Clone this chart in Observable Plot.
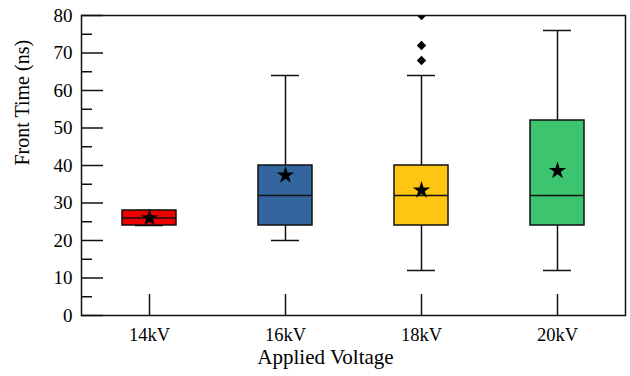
<!DOCTYPE html>
<html>
<head>
<meta charset="utf-8">
<script src="https://cdn.jsdelivr.net/npm/d3@7"></script>
<script src="https://cdn.jsdelivr.net/npm/@observablehq/plot@0.6"></script>
<style>
  body { margin: 0; background: #fff; }
  #chart svg { font-family: "Liberation Serif", "Times New Roman", serif; color: #000; }
</style>
</head>
<body>
<div id="chart"></div>
<script>
const categories = ["14kV", "16kV", "18kV", "20kV"];
const whiskerLow = [24, 20, 12, 12];
const q1 = [24, 24, 24, 24];
const median = [26, 32, 32, 32];
const q3 = [28, 40, 40, 52];
const whiskerHigh = [28, 64, 64, 76];
const means = [26, 37.4, 33.4, 38.6];
const colors = ["#ee0000", "#33659f", "#ffc513", "#3dc46f"];
const outlierCategory = ["18kV", "18kV", "18kV"];
const outlierValues = [68, 72, 80];
const yMajorTicks = [0, 10, 20, 30, 40, 50, 60, 70, 80];
const yMinorTicks = [5, 15, 25, 35, 45, 55, 65, 75];
const xLabel = "Applied Voltage";
const yLabel = "Front Time (ns)";

const rows = categories.map((c, i) => ({
  cat: c, lo: whiskerLow[i], q1: q1[i], med: median[i], q3: q3[i], hi: whiskerHigh[i], mean: means[i], color: colors[i]
}));
const outliers = outlierValues.map((v, i) => ({cat: outlierCategory[i], v}));

const W = 630, H = 376;
const mL = 81, mR = 5, mT = 15, mB = 61;
const pw = W - mL - mR, ph = H - mT - mB;
const band = pw / categories.length;
const boxW = 54, capW = 28;
const boxInset = (band - boxW) / 2, capInset = (band - capW) / 2;
const stroke = "#111";
const yDomain = [0, 80];
// x tick length of 21px expressed in y units
const xTickTop = yDomain[0] + 21 * (yDomain[1] - yDomain[0]) / ph;

const chart = Plot.plot({
  width: W, height: H,
  marginLeft: mL, marginRight: mR, marginTop: mT, marginBottom: mB,
  style: {fontFamily: "Liberation Serif, Times New Roman, serif", fontSize: "19px", background: "#fff", color: "#000"},
  x: {type: "band", domain: categories, padding: 0, label: null},
  y: {domain: yDomain, label: null},
  marks: [
    // whiskers
    Plot.ruleX(rows, {x: "cat", y1: "lo", y2: "q1", stroke, strokeWidth: 1.5}),
    Plot.ruleX(rows, {x: "cat", y1: "q3", y2: "hi", stroke, strokeWidth: 1.5}),
    Plot.tickY(rows, {x: "cat", y: "lo", stroke, strokeWidth: 1.5, insetLeft: capInset, insetRight: capInset}),
    Plot.tickY(rows, {x: "cat", y: "hi", stroke, strokeWidth: 1.5, insetLeft: capInset, insetRight: capInset}),
    // boxes
    Plot.barY(rows, {x: "cat", y1: "q1", y2: "q3", fill: "color", stroke, strokeWidth: 1.5, insetLeft: boxInset, insetRight: boxInset}),
    Plot.tickY(rows, {x: "cat", y: "med", stroke, strokeWidth: 1.5, insetLeft: boxInset, insetRight: boxInset}),
    // means
    Plot.dot(rows, {x: "cat", y: "mean", symbol: "star", r: 5.5, fill: "#000", stroke: "none"}),
    // outliers
    Plot.dot(outliers, {x: "cat", y: "v", symbol: "diamond2", r: 4.2, fill: "#000", stroke: "none", clip: true}),
    // inward ticks
    Plot.ruleY(yMajorTicks, {y: d => d, stroke, strokeWidth: 1.5, insetRight: pw - 22}),
    Plot.ruleY(yMinorTicks, {y: d => d, stroke, strokeWidth: 1.5, insetRight: pw - 11}),
    Plot.ruleX(categories, {x: d => d, y1: yDomain[0], y2: xTickTop, stroke, strokeWidth: 1.5}),
    Plot.frame({stroke, strokeWidth: 1.5}),
    // axes labels
    Plot.axisY(yMajorTicks, {tickSize: 0, tickPadding: 9, fontSize: 19, label: null}),
    Plot.axisX({tickSize: 0, tickPadding: 12, fontSize: 18.5, label: null}),
    Plot.text([xLabel], {frameAnchor: "bottom", dy: 48, dx: -28, fontSize: 21, text: d => d}),
    Plot.text([yLabel], {frameAnchor: "left", dx: -59, rotate: -90, fontSize: 20, text: d => d})
  ]
});
document.getElementById("chart").appendChild(chart);
</script>
</body>
</html>
